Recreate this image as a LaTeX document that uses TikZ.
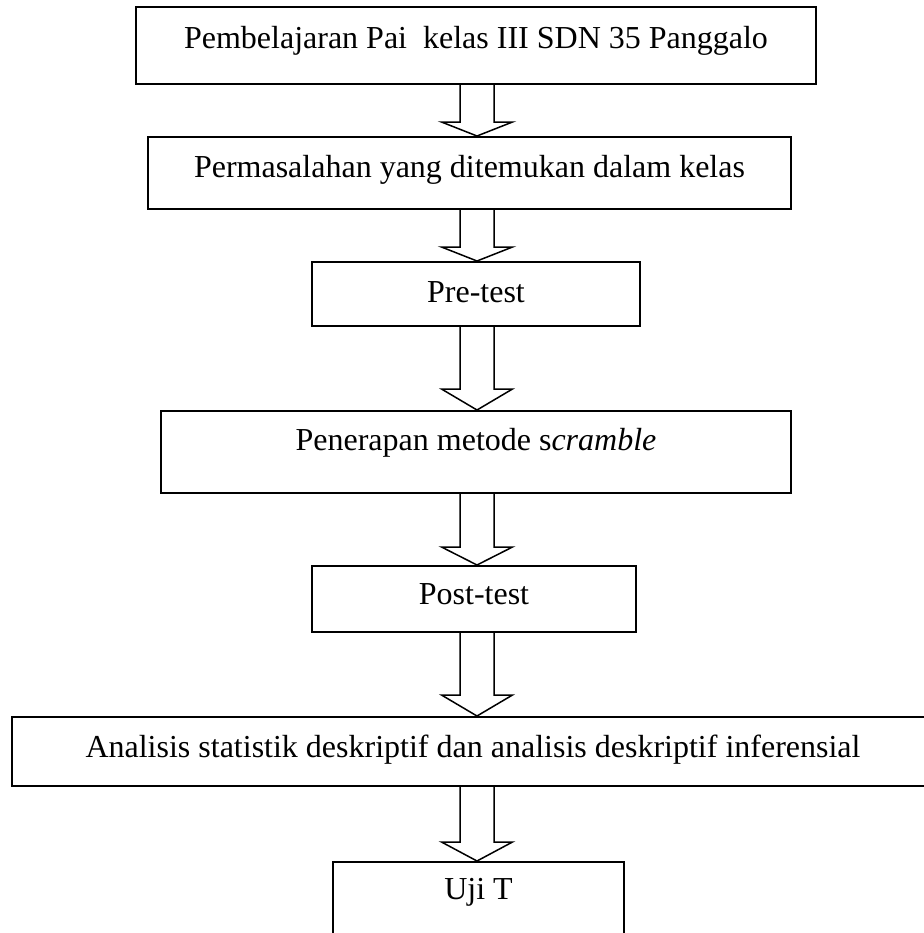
\documentclass[tikz,border=0pt]{standalone}
\usepackage{fontspec}
\setmainfont{Liberation Serif}
\usetikzlibrary{calc}

\tikzset{
  flowbox/.style={draw, line width=1pt, inner sep=0pt, text depth=5pt,
    font=\fontsize{16}{19}\selectfont},
  blockarrow/.style={draw, line width=.75pt, line join=miter}
}
% hollow block arrow from the bottom of #1 to the top of #2, head length #3
\newcommand{\flowarrow}[3]{%
  \draw[blockarrow] ($(#1.south -| axis)+(-17,0)$) -- ($(#2.north -| axis)+(-17,-#3)$)
    -- ++(-18.5,0) -- (#2.north -| axis) -- ($(#2.north -| axis)+(35.5,-#3)$)
    -- ++(-18.5,0) -- ($(#1.south -| axis)+(17,0)$);}

\begin{document}
\begin{tikzpicture}[x=0.5pt, y=-0.5pt]
\useasboundingbox (0,0) rectangle (923,933);
\coordinate (axis) at (477,0);

\node[flowbox, minimum width=340pt, minimum height=38.5pt, text height=7.5pt] (pembelajaran) at (476,45.5) {Pembelajaran Pai\ \ kelas III SDN 35 Panggalo};
\node[flowbox, minimum width=321.5pt, minimum height=36pt, text height=9pt] (masalah) at (469.5,173) {Permasalahan yang ditemukan dalam kelas};
\node[flowbox, minimum width=164pt, minimum height=32pt, text height=13pt] (pretest) at (476,294) {Pre-test};
\node[flowbox, minimum width=315pt, minimum height=41pt, text height=3pt] (scramble) at (476,452) {Penerapan metode s\textit{cramble}};
\node[flowbox, minimum width=162pt, minimum height=33pt, text height=10pt] (posttest) at (474,599) {Post-test};
\node[flowbox, minimum width=461pt, minimum height=34.5pt, text height=10.5pt] (analisis) at (473,751.5) {Analisis statistik deskriptif dan analisis deskriptif inferensial};
\node[flowbox, minimum width=145.5pt, minimum height=40pt, text height=2pt] (ujit) at (478.5,902) {Uji T};

\flowarrow{pembelajaran}{masalah}{14}
\flowarrow{masalah}{pretest}{14}
\flowarrow{pretest}{scramble}{21}
\flowarrow{scramble}{posttest}{18}
\flowarrow{posttest}{analisis}{21}
\flowarrow{analisis}{ujit}{19}
\end{tikzpicture}
\end{document}
